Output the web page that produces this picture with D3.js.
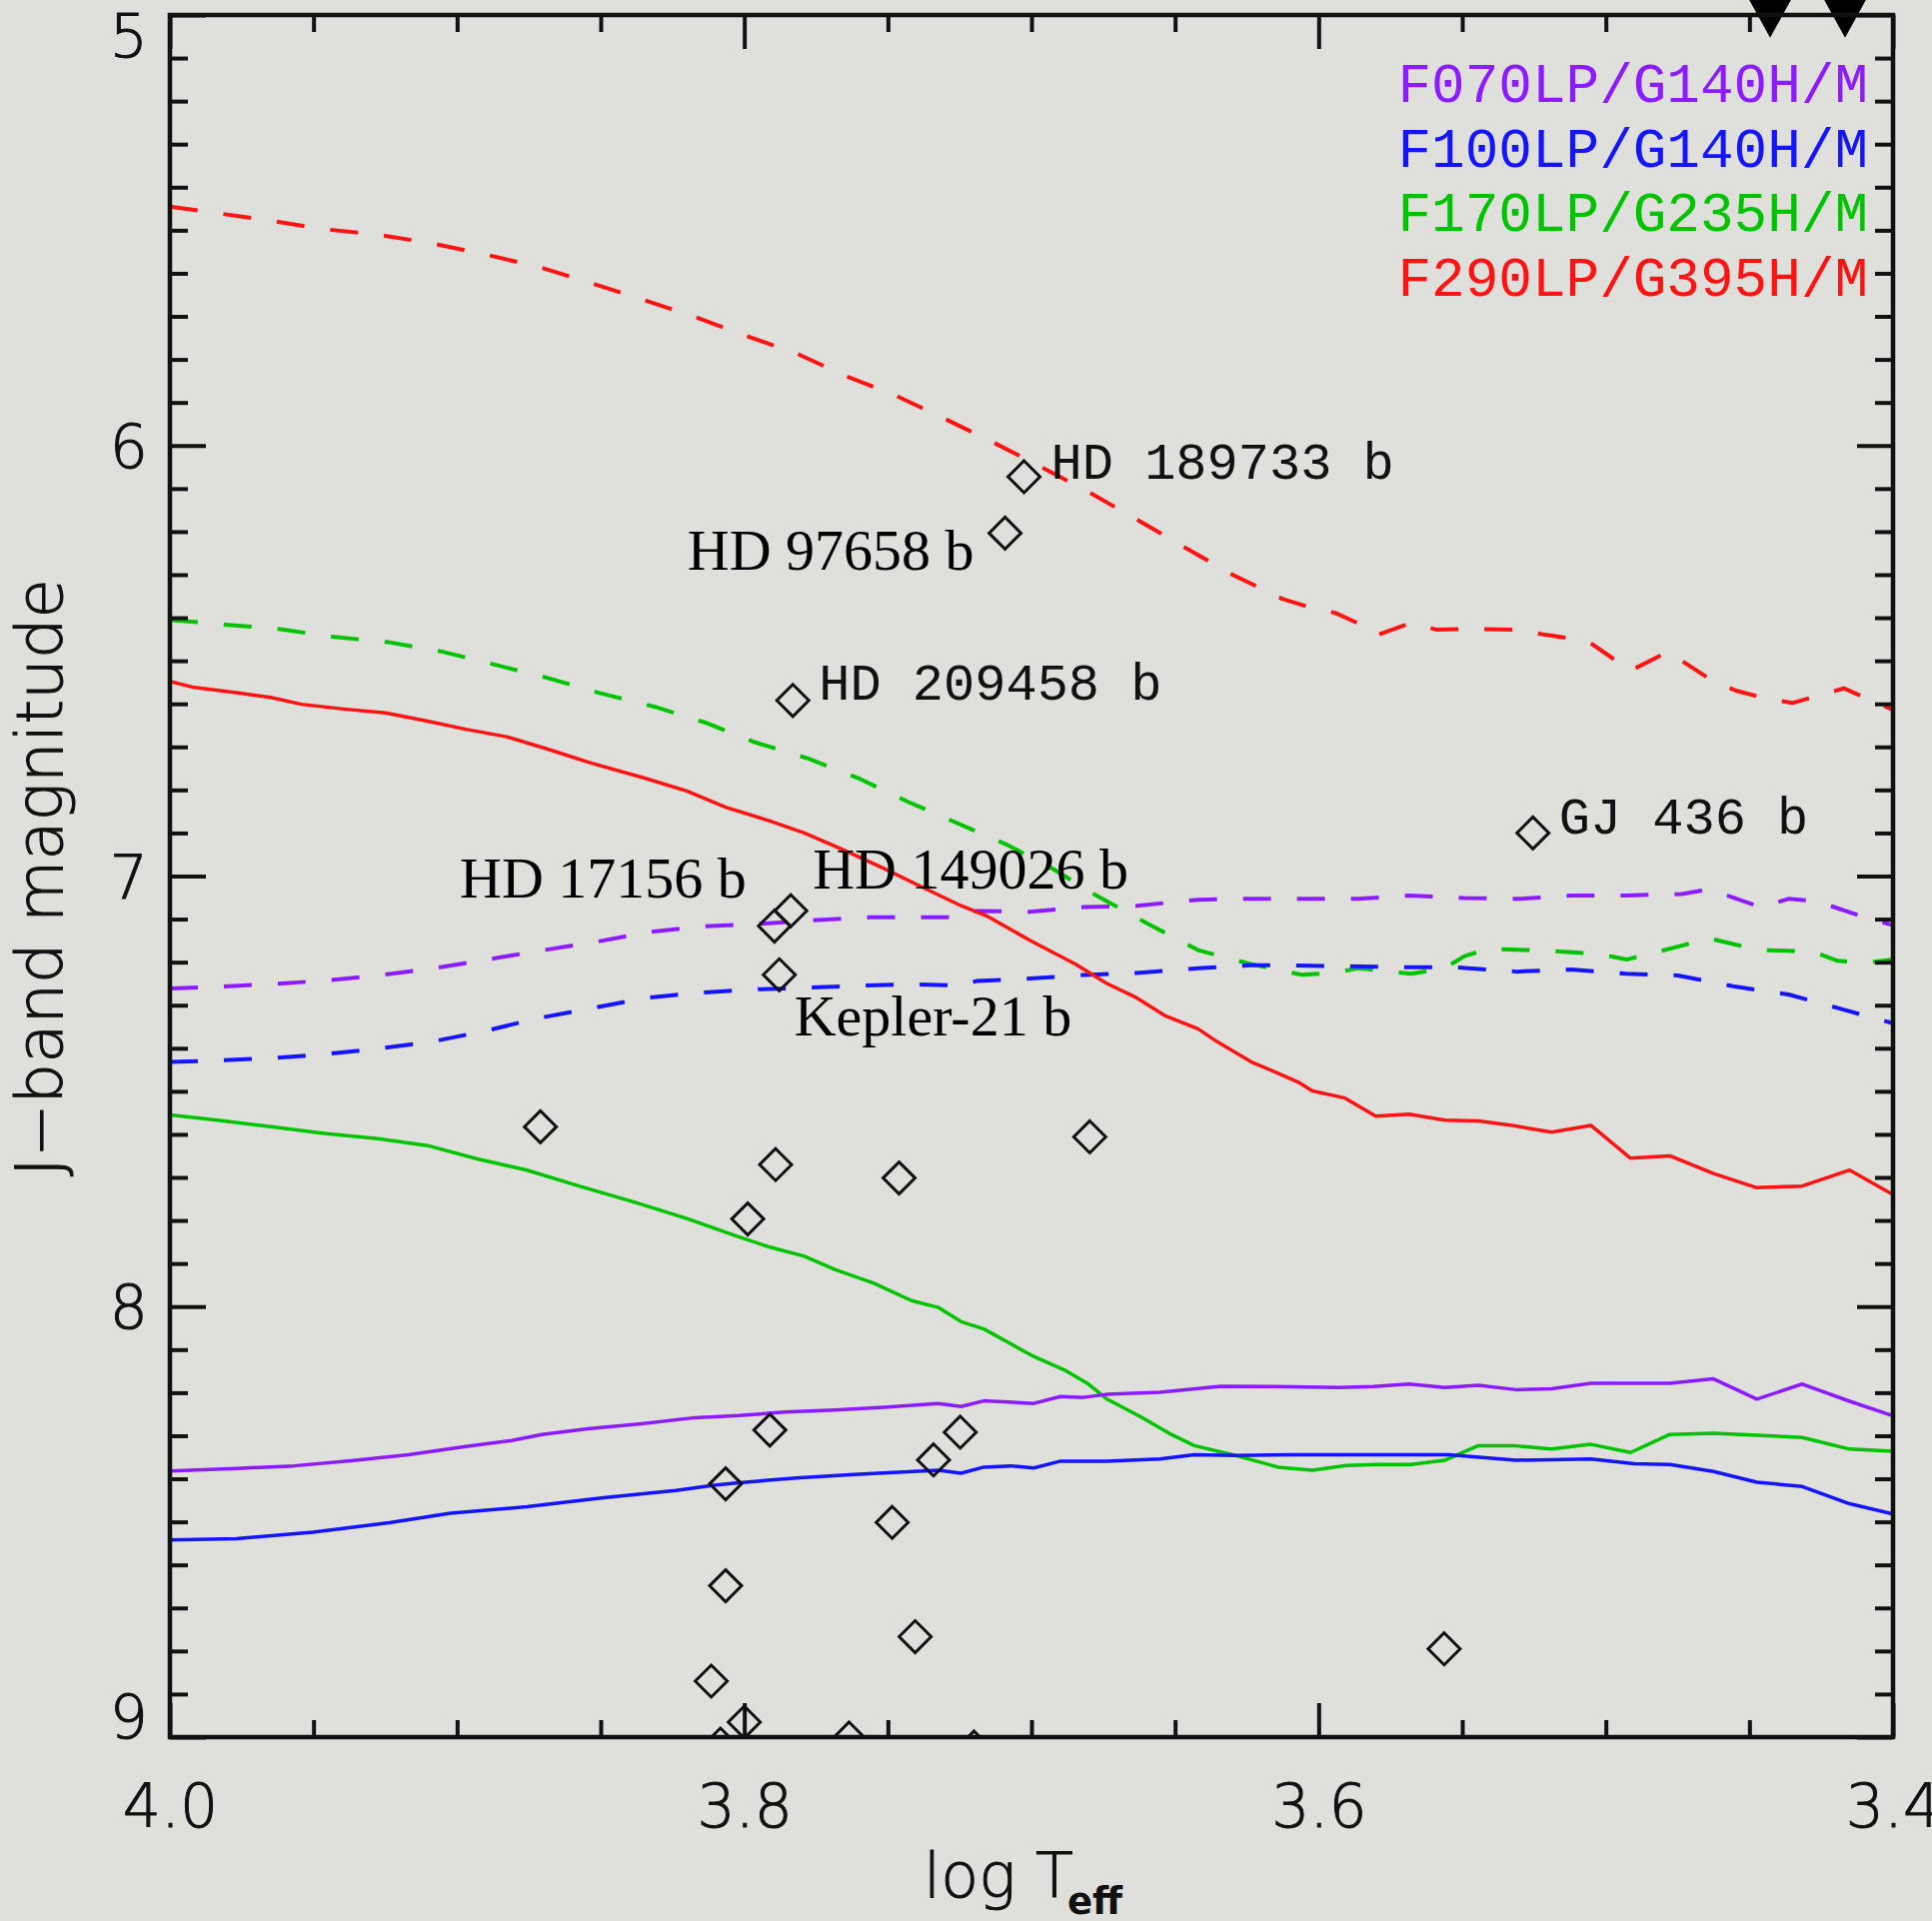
<!DOCTYPE html>
<html>
<head>
<meta charset="utf-8">
<script src="https://cdn.jsdelivr.net/npm/d3@7"></script>
<style>
  html, body { margin: 0; padding: 0; background: #dfdfdc; }
  svg { display: block; }
  .tick-label { font-family: "DejaVu Sans", sans-serif; font-size: 60px; font-weight: 200; fill: #111; stroke: #111; stroke-width: 1; }
  .axis-title { font-family: "DejaVu Sans", sans-serif; font-weight: 200; fill: #111; stroke: #111; stroke-width: 1; }
  .mono-label { font-family: "Liberation Mono", monospace; font-size: 52px; fill: #111; }
  .serif-label { font-family: "Liberation Serif", serif; font-size: 58px; fill: #000; }
</style>
</head>
<body>
<div id="chart"></div>
<script>
// ---- data : [log Teff, J mag] ----
const modes = ["F070LP/G140H/M", "F100LP/G140H/M", "F170LP/G235H/M", "F290LP/G395H/M"];
const modeColors = ["#8c1cff", "#1414ff", "#00c400", "#ff1212"];

// dashed curves (bright limits)
const dashF290 = [[4.000,5.445],[3.9656,5.477],[3.9469,5.497],[3.9277,5.510],[3.9090,5.530],[3.8903,5.556],[3.8717,5.585],[3.8537,5.622],[3.8358,5.660],[3.8178,5.700],[3.7998,5.744],[3.7818,5.786],[3.7645,5.839],[3.7472,5.884],[3.7298,5.939],[3.7126,5.995],[3.6966,6.050],[3.6793,6.111],[3.6633,6.172],[3.6460,6.239],[3.6300,6.300],[3.6127,6.356],[3.6021,6.378],[3.5941,6.389],[3.5849,6.417],[3.5795,6.440],[3.5678,6.412],[3.5588,6.428],[3.5492,6.426],[3.5306,6.428],[3.5217,6.439],[3.5121,6.448],[3.5052,6.459],[3.4914,6.523],[3.4784,6.479],[3.4625,6.548],[3.4543,6.570],[3.4447,6.587],[3.4351,6.598],[3.4171,6.564],[3.4000,6.614]];
const dashF170 = [[4.000,6.405],[3.9809,6.416],[3.9622,6.426],[3.9436,6.444],[3.9236,6.457],[3.9050,6.479],[3.8863,6.510],[3.8684,6.540],[3.8497,6.576],[3.8311,6.607],[3.8138,6.643],[3.7964,6.689],[3.7778,6.727],[3.7605,6.772],[3.7432,6.827],[3.7259,6.877],[3.7086,6.927],[3.6926,6.983],[3.6793,7.038],[3.6580,7.116],[3.6420,7.172],[3.6234,7.205],[3.6061,7.229],[3.5946,7.225],[3.5863,7.214],[3.5678,7.227],[3.5561,7.214],[3.5492,7.186],[3.5409,7.169],[3.5217,7.173],[3.5024,7.181],[3.4928,7.194],[3.4749,7.164],[3.4639,7.145],[3.4557,7.158],[3.4461,7.172],[3.4282,7.175],[3.4193,7.197],[3.4089,7.201],[3.4000,7.194]];
const dashF070 = [[4.000,7.261],[3.9835,7.257],[3.9649,7.251],[3.9462,7.243],[3.9276,7.231],[3.9090,7.215],[3.8903,7.195],[3.8717,7.174],[3.8517,7.153],[3.8331,7.130],[3.8145,7.117],[3.7948,7.111],[3.7765,7.103],[3.7565,7.096],[3.7245,7.096],[3.7192,7.081],[3.7006,7.083],[3.6819,7.072],[3.6633,7.069],[3.6420,7.055],[3.6260,7.053],[3.6070,7.053],[3.5863,7.053],[3.5685,7.045],[3.5492,7.051],[3.5300,7.053],[3.5121,7.045],[3.4928,7.045],[3.4736,7.042],[3.4640,7.031],[3.4461,7.072],[3.4364,7.053],[3.4268,7.058],[3.4089,7.098],[3.4000,7.114]];
const dashF100 = [[4.000,7.432],[3.9848,7.429],[3.9649,7.423],[3.9462,7.414],[3.9276,7.401],[3.9090,7.385],[3.8903,7.360],[3.8717,7.330],[3.8531,7.307],[3.8344,7.283],[3.8158,7.271],[3.7948,7.263],[3.7805,7.260],[3.7618,7.255],[3.7418,7.251],[3.7245,7.255],[3.7192,7.244],[3.7006,7.238],[3.6819,7.230],[3.6633,7.225],[3.6420,7.214],[3.6234,7.207],[3.5930,7.209],[3.5698,7.212],[3.5519,7.212],[3.5313,7.222],[3.5121,7.217],[3.4928,7.227],[3.4749,7.231],[3.4557,7.256],[3.4364,7.275],[3.4185,7.308],[3.4000,7.342]];

// solid curves (faint limits)
const solidF290 = [[4.000,6.548],[3.9915,6.562],[3.9769,6.574],[3.9649,6.585],[3.9542,6.601],[3.9396,6.612],[3.9249,6.621],[3.9103,6.640],[3.8970,6.659],[3.8823,6.677],[3.8690,6.704],[3.8531,6.738],[3.8344,6.773],[3.8198,6.803],[3.8065,6.840],[3.7911,6.872],[3.7791,6.900],[3.7658,6.938],[3.7512,6.983],[3.7392,7.022],[3.7245,7.069],[3.7152,7.094],[3.7006,7.149],[3.6846,7.205],[3.6739,7.249],[3.6633,7.283],[3.6536,7.324],[3.6420,7.355],[3.6353,7.385],[3.6234,7.432],[3.6141,7.458],[3.6070,7.479],[3.6022,7.499],[3.5911,7.515],[3.5801,7.558],[3.5685,7.553],[3.5561,7.567],[3.5444,7.569],[3.5320,7.580],[3.5189,7.595],[3.5052,7.579],[3.4915,7.655],[3.4777,7.650],[3.4625,7.691],[3.4474,7.724],[3.4316,7.720],[3.4151,7.683],[3.4000,7.740]];
const solidF170 = [[4.000,7.555],[3.9835,7.567],[3.9649,7.582],[3.9462,7.598],[3.9276,7.610],[3.9103,7.626],[3.8930,7.657],[3.8757,7.683],[3.8570,7.721],[3.8384,7.757],[3.8198,7.796],[3.8028,7.836],[3.7911,7.862],[3.7791,7.883],[3.7685,7.914],[3.7551,7.945],[3.7418,7.986],[3.7325,8.002],[3.7245,8.035],[3.7166,8.052],[3.6992,8.116],[3.6886,8.147],[3.6806,8.178],[3.6739,8.214],[3.6620,8.256],[3.6513,8.297],[3.6433,8.323],[3.6300,8.344],[3.6141,8.373],[3.6022,8.380],[3.5904,8.369],[3.5794,8.367],[3.5678,8.367],[3.5561,8.357],[3.5444,8.323],[3.5320,8.323],[3.5189,8.331],[3.5052,8.320],[3.4914,8.339],[3.4777,8.297],[3.4625,8.294],[3.4474,8.299],[3.4316,8.304],[3.4151,8.331],[3.4000,8.336]];
const solidF070 = [[4.000,8.382],[3.9769,8.376],[3.9569,8.370],[3.9369,8.358],[3.9169,8.344],[3.8970,8.325],[3.8810,8.311],[3.8704,8.297],[3.8544,8.284],[3.8358,8.272],[3.8171,8.258],[3.8017,8.253],[3.7858,8.245],[3.7685,8.240],[3.7512,8.234],[3.7325,8.225],[3.7245,8.232],[3.7166,8.219],[3.6992,8.225],[3.6899,8.209],[3.6820,8.211],[3.6739,8.204],[3.6553,8.199],[3.6340,8.185],[3.6154,8.186],[3.5930,8.188],[3.5808,8.186],[3.5685,8.180],[3.5561,8.188],[3.5444,8.183],[3.5313,8.193],[3.5189,8.191],[3.5052,8.178],[3.4777,8.178],[3.4625,8.168],[3.4474,8.215],[3.4316,8.180],[3.4151,8.220],[3.4000,8.254]];
const solidF100 = [[4.000,8.542],[3.9769,8.539],[3.9502,8.524],[3.9236,8.502],[3.9023,8.480],[3.8757,8.465],[3.8490,8.444],[3.8238,8.427],[3.8105,8.415],[3.8017,8.409],[3.7818,8.398],[3.7618,8.390],[3.7325,8.380],[3.7245,8.387],[3.7166,8.373],[3.7072,8.370],[3.6992,8.375],[3.6899,8.359],[3.6739,8.359],[3.6553,8.354],[3.6433,8.344],[3.6287,8.346],[3.6087,8.344],[3.5932,8.344],[3.5547,8.344],[3.5313,8.357],[3.5052,8.354],[3.4901,8.365],[3.4777,8.367],[3.4625,8.383],[3.4474,8.408],[3.4316,8.418],[3.4151,8.458],[3.4000,8.482]];

// named planets
const planetNames = ["HD 189733 b", "HD 97658 b", "HD 209458 b", "GJ 436 b", "HD 149026 b", "HD 17156 b", "Kepler-21 b"];
const planetLogT  = [3.7026, 3.7092, 3.7831, 3.5254, 3.7838, 3.7895, 3.7878];
const planetJ     = [6.0725, 6.2035, 6.5920, 6.9000, 7.0806, 7.1162, 7.2294];
// label styling / placement relative to the marker
const labelFont   = ["mono", "serif", "mono", "mono", "serif", "serif", "serif"];
const labelAnchor = ["start", "end", "start", "start", "start", "end", "start"];
const labelDx     = [27, -31, 26, 26, 22, -28, 15];
const labelDy     = [2, 37, -1, 1, -22, -29, 61];

// other (unlabelled) planets
const otherLogT = [3.8710, 3.7891, 3.7461, 3.7988, 3.6797, 3.7911, 3.7248, 3.7341, 3.8065, 3.7485, 3.8065, 3.7405, 3.5563, 3.8115, 3.8000, 3.8083, 3.7635, 3.7200];
const otherJ    = [7.5825, 7.6702, 7.7013, 7.7965, 7.6059, 8.2869, 8.2919, 8.3563, 8.4117, 8.5014, 8.6485, 8.7667, 8.7950, 8.8700, 8.9652, 9.0163, 9.0023, 9.0232];

// planets brighter than the plot range (shown as arrows at the top)
const limitLogT = [3.4428, 3.4167];
const limitJ    = [5.053, 5.053];

// axis ticks
const xMajorTicks = [4.0, 3.8, 3.6, 3.4];
const yMajorTicks = [5, 6, 7, 8, 9];

// ---- layout ----
const width = 1933, height = 1922;
const margin = {top: 15, right: 39, bottom: 184, left: 170};
const innerWidth = width - margin.left - margin.right;
const innerHeight = height - margin.top - margin.bottom;

const svg = d3.select("#chart")
  .append("svg")
  .attr("width", width)
  .attr("height", height);

svg.append("rect")
  .attr("width", width)
  .attr("height", height)
  .attr("fill", "#dfdfdc");

const inner = svg.append("g")
  .attr("transform", `translate(${margin.left}, ${margin.top})`);

const xScale = d3.scaleLinear().domain([4.0, 3.4]).range([0, innerWidth]);
const yScale = d3.scaleLinear().domain([5, 9]).range([0, innerHeight]);

svg.append("defs").append("clipPath")
  .attr("id", "plot-clip")
  .append("rect")
  .attr("width", innerWidth)
  .attr("height", innerHeight);

// ---- curves ----
const line = d3.line()
  .x(d => xScale(d[0]))
  .y(d => yScale(d[1]));

const curves = [
  {data: dashF290, color: modeColors[3], dashed: true},
  {data: dashF170, color: modeColors[2], dashed: true},
  {data: dashF070, color: modeColors[0], dashed: true},
  {data: dashF100, color: modeColors[1], dashed: true},
  {data: solidF290, color: modeColors[3], dashed: false},
  {data: solidF170, color: modeColors[2], dashed: false},
  {data: solidF070, color: modeColors[0], dashed: false},
  {data: solidF100, color: modeColors[1], dashed: false}
];

const plotArea = inner.append("g").attr("clip-path", "url(#plot-clip)");

plotArea.selectAll("path.curve")
  .data(curves)
  .join("path")
    .attr("class", "curve")
    .attr("d", d => line(d.data))
    .attr("fill", "none")
    .attr("stroke", d => d.color)
    .attr("stroke-width", d => d.dashed ? 4 : 3.5)
    .attr("stroke-dasharray", d => d.dashed ? "28,26" : null)
    .attr("stroke-linejoin", "round");

// ---- planets (diamonds) ----
const diamond = "M0,-16L16,0L0,16L-16,0Z";
const allPlanets = planetLogT.map((t, i) => [t, planetJ[i]])
  .concat(otherLogT.map((t, i) => [t, otherJ[i]]));

plotArea.selectAll("path.planet")
  .data(allPlanets)
  .join("path")
    .attr("class", "planet")
    .attr("d", diamond)
    .attr("transform", d => `translate(${xScale(d[0])}, ${yScale(d[1])})`)
    .attr("fill", "none")
    .attr("stroke", "#111")
    .attr("stroke-width", 3);

// planet labels
inner.selectAll("text.planet-label")
  .data(planetNames)
  .join("text")
    .attr("class", (d, i) => "planet-label " + (labelFont[i] === "mono" ? "mono-label" : "serif-label"))
    .attr("x", (d, i) => xScale(planetLogT[i]) + labelDx[i])
    .attr("y", (d, i) => yScale(planetJ[i]) + labelDy[i])
    .attr("text-anchor", (d, i) => labelAnchor[i])
    .text(d => d);

// ---- upper-limit arrows ----
limitLogT.forEach((t, i) => {
  const x = xScale(t), y = yScale(limitJ[i]);
  inner.append("line")
    .attr("x1", x).attr("x2", x)
    .attr("y1", y - 90).attr("y2", y - 10)
    .attr("stroke", "#000")
    .attr("stroke-width", 4);
  inner.append("path")
    .attr("d", `M${x - 22},${y - 40}L${x + 22},${y - 40}L${x},${y}Z`)
    .attr("fill", "#000");
});

// ---- axes ----
const yMinor = d3.range(51, 90).filter(v => v % 10 !== 0).map(v => v / 10);
const xMinor = d3.range(0, 13).map(i => +(3.4 + i * 0.05).toFixed(2))
  .filter(v => !xMajorTicks.some(m => Math.abs(m - v) < 1e-6));

function styleAxis(g) {
  g.select(".domain").remove();
  g.selectAll(".tick line").attr("stroke", "#111").attr("stroke-width", 4);
}
function dropLabels(g) {
  g.selectAll(".tick text").remove();
}

// left
inner.append("g")
  .call(d3.axisLeft(yScale).tickValues(yMinor).tickSize(-18))
  .call(styleAxis).call(dropLabels);
const leftMajor = inner.append("g")
  .call(d3.axisLeft(yScale).tickValues(yMajorTicks).tickSize(-36).tickPadding(22).tickFormat(d3.format("d")))
  .call(styleAxis);
leftMajor.selectAll("text")
  .attr("class", "tick-label")
  .attr("font-size", null)
  .attr("font-family", null)
  .attr("fill", null)
  .attr("dy", d => d === 5 ? "0.69em" : d === 9 ? "0em" : "0.36em");

// right
inner.append("g")
  .attr("transform", `translate(${innerWidth}, 0)`)
  .call(d3.axisRight(yScale).tickValues(yMinor).tickSize(-18))
  .call(styleAxis).call(dropLabels);
inner.append("g")
  .attr("transform", `translate(${innerWidth}, 0)`)
  .call(d3.axisRight(yScale).tickValues(yMajorTicks).tickSize(-36))
  .call(styleAxis).call(dropLabels);

// bottom
inner.append("g")
  .attr("transform", `translate(0, ${innerHeight})`)
  .call(d3.axisBottom(xScale).tickValues(xMinor).tickSize(-17))
  .call(styleAxis).call(dropLabels);
const bottomMajor = inner.append("g")
  .attr("transform", `translate(0, ${innerHeight})`)
  .call(d3.axisBottom(xScale).tickValues(xMajorTicks).tickSize(-34).tickPadding(47).tickFormat(d3.format(".1f")))
  .call(styleAxis);
bottomMajor.selectAll("text")
  .attr("class", "tick-label")
  .attr("font-size", null)
  .attr("font-family", null)
  .attr("fill", null);

// top
inner.append("g")
  .call(d3.axisTop(xScale).tickValues(xMinor).tickSize(-17))
  .call(styleAxis).call(dropLabels);
inner.append("g")
  .call(d3.axisTop(xScale).tickValues(xMajorTicks).tickSize(-34))
  .call(styleAxis).call(dropLabels);

// frame
inner.append("rect")
  .attr("width", innerWidth)
  .attr("height", innerHeight)
  .attr("fill", "none")
  .attr("stroke", "#111")
  .attr("stroke-width", 4.5);

// ---- axis titles ----
const xTitle = svg.append("text")
  .attr("class", "axis-title")
  .attr("x", 924)
  .attr("y", 1898)
  .attr("font-size", 62);
xTitle.append("tspan").text("log T");
xTitle.append("tspan")
  .attr("font-size", 37)
  .attr("font-weight", "bold")
  .attr("stroke-width", 0)
  .attr("dx", -6)
  .attr("dy", 17)
  .text("eff");

svg.append("text")
  .attr("class", "axis-title")
  .attr("transform", "rotate(-90)")
  .attr("x", -878)
  .attr("y", 62)
  .attr("text-anchor", "middle")
  .attr("font-size", 64)
  .text("J\u2212band magnitude");

// ---- legend ----
svg.append("g")
  .selectAll("text")
  .data(modes)
  .join("text")
    .attr("x", 1869)
    .attr("y", (d, i) => 102 + i * 64.7)
    .attr("text-anchor", "end")
    .attr("font-family", "Liberation Mono, monospace")
    .attr("font-size", 56)
    .attr("fill", (d, i) => modeColors[i])
    .text(d => d);
</script>
</body>
</html>
